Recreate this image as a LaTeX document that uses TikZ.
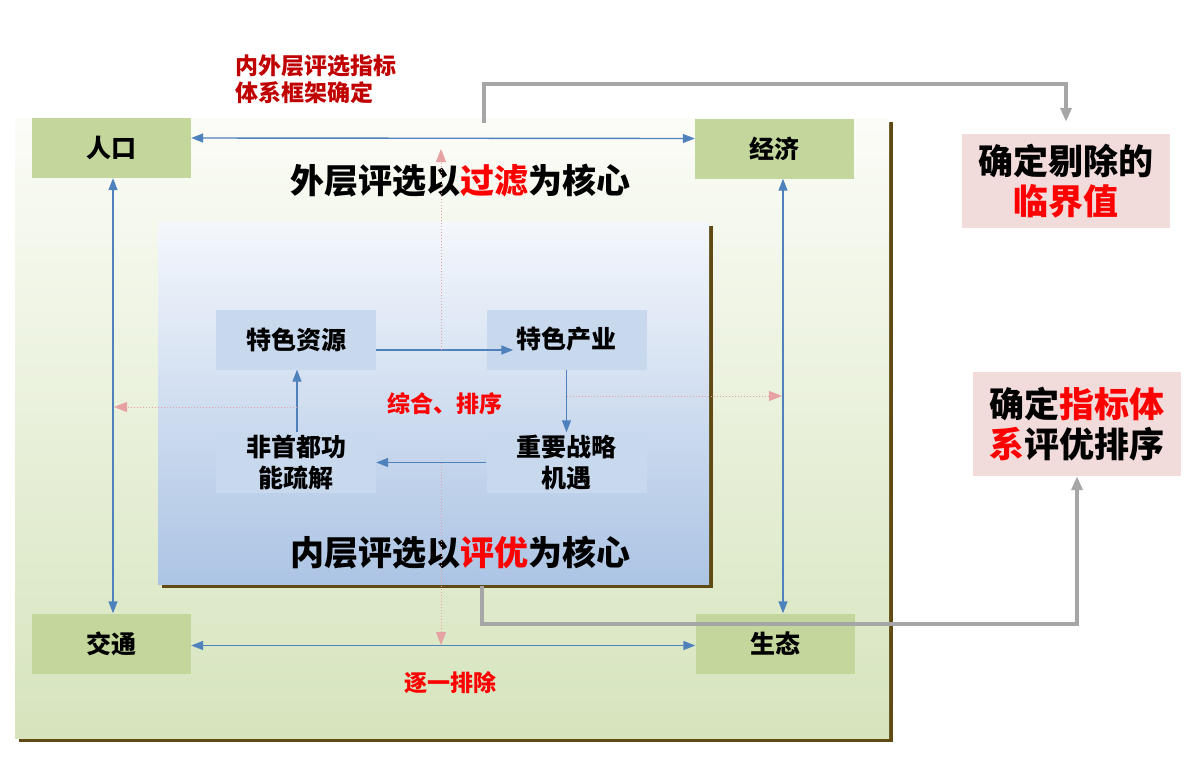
\documentclass[tikz,border=0pt]{standalone}
\usepackage{fontspec}
\setmainfont{Noto Sans CJK SC}
\newfontfamily\heavy{Noto Sans CJK SC Black}
\usepackage{xcolor}
\usetikzlibrary{arrows.meta,positioning,calc}
\definecolor{boxgreen}{HTML}{C3D69B}
\definecolor{subblue}{HTML}{C8D9EE}
\definecolor{pinkbox}{HTML}{F2DCDB}
\definecolor{blueline}{HTML}{4F81BD}
\definecolor{dotred}{HTML}{E6A2A2}
\definecolor{greyline}{HTML}{A6A6A6}
\definecolor{shadowbrown}{HTML}{5E4A12}
\definecolor{darkred}{HTML}{C00000}

\begin{document}
\begin{tikzpicture}[x=1pt,y=-1pt,
    factor/.style={fill=boxgreen,minimum width=159pt,minimum height=60pt,inner sep=0pt,font=\bfseries\fontsize{25}{30}\selectfont},
    sub/.style={fill=subblue,minimum width=160pt,minimum height=60pt,inner sep=0pt,align=center,font=\bfseries\fontsize{25}{31}\selectfont},
    result/.style={fill=pinkbox,minimum width=208pt,inner sep=0pt,align=center,font=\heavy\fontsize{35}{40}\selectfont},
    title/.style={font=\heavy\fontsize{34}{40}\selectfont},
    note/.style={text=red,font=\bfseries\fontsize{23}{27}\selectfont},
    link/.style={blueline,line width=1.4pt,{Triangle[length=12pt,width=9pt]}-{Triangle[length=12pt,width=9pt]}},
    flow/.style={blueline,line width=1.4pt,-{Triangle[length=12pt,width=9pt]}},
    probe/.style={dotred,line width=1pt,dotted,-{Triangle[length=13pt,width=10pt]}},
    feed/.style={greyline,line width=3.5pt,-{Triangle[length=14pt,width=11pt]}}]
    \useasboundingbox (0,0) rectangle (1200,761);

    % Outer frame
    \fill[shadowbrown] (19,122) rectangle (893,742);
    \fill[top color={rgb,255:red,251;green,252;blue,247},middle color={rgb,255:red,228;green,237;blue,213},bottom color={rgb,255:red,214;green,228;blue,189}] (15,118) rectangle (889,738);

    \node[factor] (renkou) at (111.5,148) {人口};
    \node[factor] (jingji) at (774.5,148.5) {经济};
    \node[factor] (jiaotong) at (111.5,643.5) {交通};
    \node[factor] (shengtai) at (775,643.5) {生态};
    \node[title] (outtitle) at (460,181) {外层评选以{\color{red}过滤}为核心};

    % Inner frame
    \fill[shadowbrown] (162,226) rectangle (713,588);
    \fill[top color={rgb,255:red,244;green,247;blue,252},middle color={rgb,255:red,205;green,220;blue,240},bottom color={rgb,255:red,172;green,196;blue,228}] (158,222) rectangle (709,584);

    \node[sub] (ziyuan) at (296,339.5) {特色资源};
    \node[sub] (chanye) at (566.5,339.5) {特色产业};
    \node[sub] (shudao) at (296,462.5) {非首都功\\能疏解};
    \node[sub] (jiyu) at (566.5,462.5) {重要战略\\机遇};
    \node[title] (intitle) at (460,553) {内层评选以{\color{red}评优}为核心};
    \node[note] (zonghe) at (445,404) {综合、排序};
    \node[note] (paichu) at (450,683) {逐一排除};
    \node[note,text=darkred,anchor=west,align=left] (kuangjia) at (232,79) {内外层评选指标\\体系框架确定};

    % Results
    \node[result,minimum height=94pt] (linjie) at (1066,181) {确定剔除的\\{\color{red}临界值}};
    \node[result,minimum height=104pt] (paixu) at (1077,424) {确定{\color{red}指标体}\\{\color{red}系}评优排序};

    % Outer links
    \draw[link] ([yshift=10pt]renkou.east) -- ([yshift=10pt]jingji.west);
    \draw[link] ([yshift=-2pt]jiaotong.east) -- ([yshift=-2pt]shengtai.west);
    \draw[link] ([xshift=1.5pt]renkou.south) -- ([xshift=1.5pt]jiaotong.north);
    \draw[link] ([xshift=8.5pt]jingji.south) -- ([xshift=8pt]shengtai.north);

    % Inner cycle
    \draw[flow] ([yshift=-10.5pt]ziyuan.east) -- ([xshift=27pt,yshift=-10.5pt]chanye.west);
    \draw[flow] (chanye.south) -- (jiyu.north);
    \draw[flow] (jiyu.west) -- (shudao.east);
    \draw[flow] ([xshift=1pt]shudao.north) -- ([xshift=1pt]ziyuan.south);

    % Dotted probes
    \coordinate (ptop) at (441,350);
    \coordinate (pbot) at (441,463);
    \coordinate (pleft) at (297,407);
    \coordinate (pright) at (567,396);
    \draw[probe] (ptop) -- (441,149);
    \draw[probe] (pbot) -- (441,645);
    \draw[probe] (pleft) -- (114,407);
    \draw[probe] (pright) -- (782,396);

    % Grey feedback
    \coordinate (gtop) at (484,123);
    \coordinate (gbot) at (482,586);
    \draw[feed] (gtop) |- (1066,84) -- ([yshift=12pt]linjie.north);
    \draw[feed] (gbot) |- (1077,624) -- (paixu.south);
\end{tikzpicture}
\end{document}
